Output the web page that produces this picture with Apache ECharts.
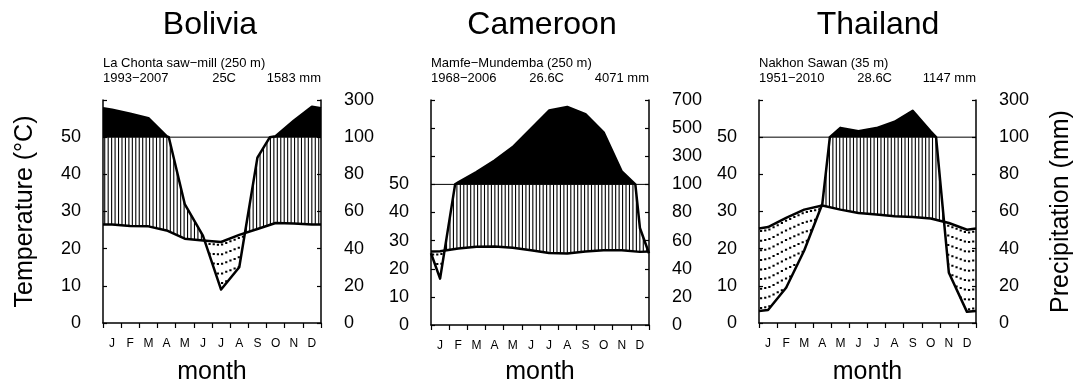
<!DOCTYPE html>
<html>
<head>
<meta charset="utf-8">
<script src="https://cdn.jsdelivr.net/npm/echarts@6/dist/echarts.min.js"></script>
<style>
  html, body { margin: 0; padding: 0; background: #fff; }
  #chart { width: 1077px; height: 387px; }
</style>
</head>
<body>
<div id="chart"></div>
<script>
const months = ['J', 'F', 'M', 'A', 'M', 'J', 'J', 'A', 'S', 'O', 'N', 'D'];
const countries = ['Bolivia', 'Cameroon', 'Thailand'];
const stations = ['La Chonta saw−mill (250 m)', 'Mamfe−Mundemba (250 m)', 'Nakhon Sawan (35 m)'];
const periods = ['1993−2007', '1968−2006', '1951−2010'];
const meanTemp = ['25C', '26.6C', '28.6C'];
const annualRain = ['1583 mm', '4071 mm', '1147 mm'];

// monthly mean temperature (°C)
const tempBolivia = [26.5, 26.1, 26.0, 24.9, 22.7, 22.2, 21.8, 23.7, 25.3, 26.9, 26.8, 26.5];
const tempCameroon = [26.2, 27.2, 27.8, 27.9, 27.5, 26.6, 25.6, 25.4, 26.1, 26.6, 26.6, 26.0];
const tempThailand = [25.8, 28.3, 30.5, 31.6, 30.5, 29.6, 29.2, 28.7, 28.5, 28.1, 26.9, 25.1];

// monthly precipitation (mm)
const rainBolivia = [248, 226, 202, 105, 64, 47, 18, 30, 89, 105, 188, 264];
const rainCameroon = [33, 114, 188, 270, 365, 495, 625, 650, 600, 470, 192, 69];
const rainThailand = [7, 19, 39, 64, 150, 132, 149, 183, 242, 130, 27, 6];

// top label of each precipitation axis (mm)
const rainTop = [300, 700, 300];

const temps = [tempBolivia, tempCameroon, tempThailand];
const rains = [rainBolivia, rainCameroon, rainThailand];

const FONT = 'Liberation Sans, Arial, Helvetica, sans-serif';
const gridLeft = [103, 431, 759];
const gridWidth = [218, 218, 217];
const gridHeight = [223, 225, 223];
const titleX = [210, 542, 878];

// Walter-Lieth scale: 2 mm per degree up to 100 mm, 20 mm per degree above
function scaleRain (mm) {
  return mm <= 100 ? mm / 2 : 50 + (mm - 100) / 20
}

function buildPanel (temp, rain) {
  // wrap december / january around the edges, like the R diagram does
  const xs = [-0.5].concat(months.map((m, i) => i + 0.5), [12.5])
  const t = [temp[11]].concat(temp, [temp[0]])
  const r = [rain[11]].concat(rain, [rain[0]])
  const lin = (arr, x) => {
    let k = 0
    while (k < xs.length - 2 && x > xs[k + 1]) k++
    return arr[k] + (arr[k + 1] - arr[k]) * (x - xs[k]) / (xs[k + 1] - xs[k])
  }
  const T = x => lin(t, x)
  const R = x => lin(r, x)
  const P = x => scaleRain(R(x))

  // breakpoints of the rain curve (nodes + 100 mm crossings)
  const rainPts = [0, 12]
  const tempPts = [0, 12]
  xs.forEach(x => { if (x > 0 && x < 12) { rainPts.push(x); tempPts.push(x) } })
  for (let k = 0; k < xs.length - 1; k++) {
    if ((r[k] - 100) * (r[k + 1] - 100) < 0) {
      const x = xs[k] + (100 - r[k]) / (r[k + 1] - r[k]) * (xs[k + 1] - xs[k])
      if (x > 0 && x < 12) rainPts.push(x)
    }
  }
  rainPts.sort((a, b) => a - b)
  tempPts.sort((a, b) => a - b)

  // add crossings of rain and temperature
  const pts = rainPts.slice()
  for (let i = 0; i < rainPts.length - 1; i++) {
    const a = rainPts[i]
    const c = rainPts[i + 1]
    const fa = P(a) - T(a)
    const fc = P(c) - T(c)
    if (fa * fc < 0) pts.push(a + fa / (fa - fc) * (c - a))
  }
  pts.sort((a, b) => a - b)
  return { T, R, P, pts, rainPts, tempPts }
}

function renderPanel (panel, api) {
  const children = []
  const c = (x, y) => api.coord([x, y])
  const { T, R, P, pts, rainPts, tempPts } = panel

  // black area: precipitation above 100 mm
  let run = null
  const flush = () => {
    if (run && run.length > 1) {
      const poly = run.map(x => c(x, P(x)))
      poly.push(c(run[run.length - 1], 50))
      poly.push(c(run[0], 50))
      children.push({ type: 'polygon', shape: { points: poly }, style: { fill: '#000', stroke: null } })
    }
    run = null
  }
  for (let i = 0; i < pts.length - 1; i++) {
    const mid = (pts[i] + pts[i + 1]) / 2
    if (R(mid) > 100) {
      if (!run) run = [pts[i]]
      run.push(pts[i + 1])
    } else {
      flush()
    }
  }
  flush()

  // humid period: vertical lines
  const step = 0.19
  for (let x = step / 2; x < 12; x += step) {
    const t = T(x)
    const p = P(x)
    if (p > t) {
      const a = c(x, t)
      const b = c(x, Math.min(p, 50))
      children.push({ type: 'line', shape: { x1: a[0], y1: a[1], x2: b[0], y2: b[1] }, style: { stroke: '#000', lineWidth: 1.1 } })
    }
  }
  // dry period: dotted lines
  const dryStep = 0.23
  for (let x = dryStep / 2; x < 12; x += dryStep) {
    const t = T(x)
    const p = P(x)
    if (t > p) {
      const a = c(x, t)
      const b = c(x, p)
      children.push({ type: 'line', shape: { x1: a[0], y1: a[1] + 2, x2: b[0], y2: b[1] }, style: { stroke: '#000', lineWidth: 2.2, lineDash: [2, 7.6] } })
    }
  }

  // 100 mm reference line
  const l0 = c(0, 50)
  const l1 = c(12, 50)
  children.push({ type: 'line', shape: { x1: l0[0], y1: l0[1], x2: l1[0], y2: l1[1] }, style: { stroke: '#000', lineWidth: 1 } })

  children.push({ type: 'polyline', shape: { points: tempPts.map(x => c(x, T(x))) }, style: { stroke: '#000', fill: 'none', lineWidth: 2.5, lineJoin: 'round' } })
  children.push({ type: 'polyline', shape: { points: rainPts.map(x => c(x, P(x))) }, style: { stroke: '#000', fill: 'none', lineWidth: 2.5, lineJoin: 'round' } })

  return { type: 'group', children }
}

const panels = temps.map((t, i) => buildPanel(t, rains[i]))
const yMax = rainTop.map(mm => scaleRain(mm))

const axisLineStyle = { color: '#000', width: 1.5 }
const grids = []
const xAxes = []
const yAxes = []
const series = []
const graphics = []

countries.forEach((name, i) => {
  grids.push({
    left: gridLeft[i], top: 100, width: gridWidth[i], height: gridHeight[i],
    containLabel: false, outerBoundsMode: 'none'
  })
  xAxes.push({
    type: 'value', gridIndex: i, min: 0, max: 12,
    axisLine: { show: true, lineStyle: axisLineStyle },
    axisTick: { show: true, length: 5, lineStyle: { color: '#000', width: 1.2 }, customValues: months.map((m, k) => k).concat([12]) },
    axisLabel: {
      color: '#000', fontSize: 12, margin: 15, fontFamily: FONT,
      customValues: months.map((m, k) => k + 0.5),
      formatter: v => months[Math.floor(v)]
    },
    splitLine: { show: false },
    name: 'month', nameLocation: 'middle', nameGap: i === 1 ? 35 : 37,
    nameTextStyle: { color: '#000', fontSize: 25, fontFamily: FONT }
  })
  yAxes.push({
    type: 'value', gridIndex: i, position: 'left', min: 0, max: yMax[i], interval: 10,
    axisLine: { show: true, lineStyle: axisLineStyle },
    axisTick: { show: true, inside: true, length: 4, lineStyle: { color: '#000', width: 1.2 } },
    axisLabel: { color: '#000', fontSize: 18, margin: 22, fontFamily: FONT, formatter: v => (v <= 50 ? String(v) : '') },
    splitLine: { show: false },
    name: i === 0 ? 'Temperature (°C)' : '', nameLocation: 'middle', nameGap: 65, nameRotate: 90,
    nameTextStyle: { color: '#000', fontSize: 25, fontFamily: FONT }
  })
  yAxes.push({
    type: 'value', gridIndex: i, position: 'right', min: 0, max: yMax[i], interval: 10,
    axisLine: { show: true, lineStyle: axisLineStyle },
    axisTick: { show: true, inside: true, length: 4, lineStyle: { color: '#000', width: 1.2 } },
    axisLabel: { color: '#000', fontSize: 18, margin: 23, fontFamily: FONT, formatter: v => String(v <= 50 ? v * 2 : 100 + (v - 50) * 20) },
    splitLine: { show: false },
    name: i === 2 ? 'Precipitation (mm)' : '', nameLocation: 'middle', nameGap: 73, nameRotate: 90,
    nameTextStyle: { color: '#000', fontSize: 25, fontFamily: FONT }
  })
  series.push({
    type: 'custom', coordinateSystem: 'cartesian2d',
    xAxisIndex: i, yAxisIndex: 2 * i,
    data: [[0, 0]], silent: true, clip: false, z: 5,
    renderItem: (params, api) => renderPanel(panels[i], api)
  })

  const textStyle = (text, size, align) => ({
    text, fill: '#000', font: size + 'px ' + FONT,
    textAlign: align, align, textVerticalAlign: 'middle', verticalAlign: 'middle'
  })
  graphics.push({ type: 'text', x: titleX[i], y: 25, style: textStyle(name, 32, 'center') })
  graphics.push({ type: 'text', x: gridLeft[i], y: 63, style: textStyle(stations[i], 13, 'left') })
  graphics.push({ type: 'text', x: gridLeft[i], y: 78, style: textStyle(periods[i], 13, 'left') })
  graphics.push({ type: 'text', x: gridLeft[i] + 133, y: 78, style: textStyle(meanTemp[i], 13, 'right') })
  graphics.push({ type: 'text', x: gridLeft[i] + gridWidth[i], y: 78, style: textStyle(annualRain[i], 13, 'right') })
})

const chart = echarts.init(document.getElementById('chart'))
chart.setOption({
  animation: false,
  backgroundColor: '#fff',
  textStyle: { fontFamily: FONT, color: '#000' },
  grid: grids,
  xAxis: xAxes,
  yAxis: yAxes,
  series: series,
  graphic: graphics
})
</script>
</body>
</html>
